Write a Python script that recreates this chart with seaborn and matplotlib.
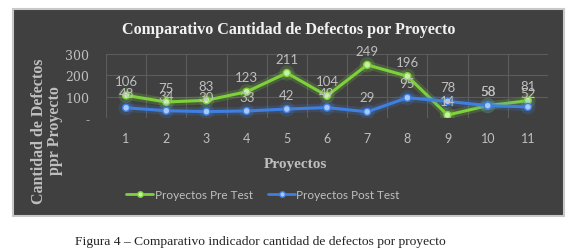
import pandas as pd
import seaborn as sns
import matplotlib.pyplot as plt
import matplotlib.patheffects as pe
from matplotlib.patches import Rectangle

proyectos = [1, 2, 3, 4, 5, 6, 7, 8, 9, 10, 11]
pre_test = [106, 75, 83, 123, 211, 104, 249, 196, 14, 58, 81]
post_test = [48, 34, 30, 33, 42, 49, 29, 95, 78, 58, 52]
series_names = ["Proyectos Pre Test", "Proyectos Post Test"]
y_ticks = [0, 100, 200, 300]
y_tick_labels = ["-", "100", "200", "300"]

df = pd.DataFrame({
    "proyecto": proyectos * 2,
    "defectos": pre_test + post_test,
    "serie": [series_names[0]] * len(pre_test) + [series_names[1]] * len(post_test),
})

bg = "#404040"
txt = "#bfbfbf"
green = "#7fd13b"
blue = "#3f7fe0"

sns.set_theme(style="dark")
plt.rcParams["font.family"] = ["Lato", "DejaVu Sans"]

fig = plt.figure(figsize=(5.79, 2.51), dpi=100, facecolor="white")
fig.patches.append(Rectangle((13 / 579, 1 - 217 / 251), 551 / 579, 207 / 251,
                             transform=fig.transFigure, facecolor=bg,
                             edgecolor="#c8c8c8", linewidth=1.5, zorder=-10))

ax = fig.add_axes([106 / 579, 1 - 119 / 251, 442 / 579, 64 / 251])
ax.set_facecolor("none")
ax.set_zorder(5)

sns.lineplot(data=df, x="proyecto", y="defectos", hue="serie",
             palette={series_names[0]: green, series_names[1]: blue},
             marker="o", markersize=5, linewidth=2.2, ax=ax, legend=False)

face = {series_names[0]: "#c9f0a8", series_names[1]: "#a9c8f5"}
for line, name in zip(ax.lines, series_names):
    line.set_markerfacecolor(face[name])
    line.set_markeredgecolor(line.get_color())
    line.set_markeredgewidth(1)
    line.set_path_effects([pe.Stroke(linewidth=6, foreground=line.get_color(), alpha=0.2),
                           pe.Normal()])

for vals in (pre_test, post_test):
    for x, v in zip(proyectos, vals):
        ax.annotate(str(v), (x, v), xytext=(0, 6), textcoords="offset points",
                    ha="center", va="bottom", color=txt, fontsize=9.5)

ax.set_xlim(0.5, 11.5)
ax.set_ylim(0, 300)
ax.set_xticks(proyectos)
ax.set_xticklabels([str(p) for p in proyectos], color=txt, fontsize=9)
ax.set_xticks([p + 0.5 for p in [0] + proyectos], minor=True)
ax.set_yticks(y_ticks)
ax.set_yticklabels(y_tick_labels, color=txt, fontsize=9, family="DejaVu Serif")
ax.tick_params(axis="x", which="both", length=0, pad=10)
ax.tick_params(axis="y", length=0, pad=12)
ax.grid(True, axis="y", color="#5c5c5c", linewidth=0.8)
ax.grid(True, axis="x", which="minor", color="#5c5c5c", linewidth=0.8)
ax.grid(False, axis="x", which="major")
for s in ax.spines.values():
    s.set_visible(False)

ax.set_xlabel("Proyectos", color=txt, fontsize=11, fontweight="bold",
              family="Liberation Serif")
ax.xaxis.set_label_coords((295 - 106) / 442, -(158 - 119) / 64)
ax.set_ylabel("")

fig.text(289 / 579, 1 - 30 / 251, "Comparativo Cantidad de Defectos por Proyecto",
         ha="center", va="center", color="#f2f2f2", fontsize=11.6,
         fontweight="bold", family="Liberation Serif")
fig.text(47 / 579, 1 - 131 / 251, "Cantidad de Defectos\nppr Proyecto",
         ha="center", va="center", rotation=90, color=txt, fontsize=11.5,
         fontweight="bold", family="Liberation Serif", linespacing=1.0)

handles = [plt.Line2D([], [], color=c, marker="o", markersize=4, linewidth=2,
                      markerfacecolor=face[n], markeredgecolor=c)
           for c, n in zip([green, blue], series_names)]
leg = fig.legend(handles, series_names, loc="center", ncol=2,
                 bbox_to_anchor=(263 / 579, 1 - 196 / 251), frameon=False,
                 prop={"family": "Lato", "size": 8.5},
                 handlelength=2.3, columnspacing=1.3, handletextpad=0.1)
for t in leg.get_texts():
    t.set_color(txt)

fig.text(260 / 579, 1 - 242 / 251,
         "Figura 4 \u2013 Comparativo indicador cantidad de defectos por proyecto",
         ha="center", va="center", color="#222222", fontsize=9.7,
         family="Liberation Serif")

fig.savefig("out.png", dpi=100, facecolor="white")
